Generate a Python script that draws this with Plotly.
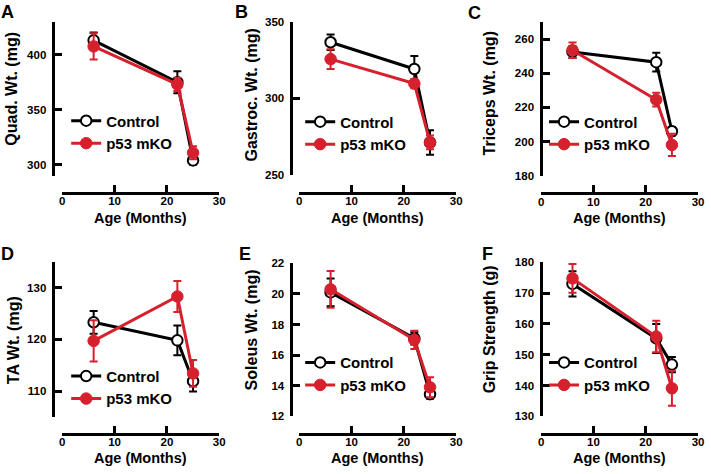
import plotly.graph_objects as go

W, H = 711, 474

# ---------------- data ----------------
ages = [6, 22, 25]
x_ticks = [0, 10, 20, 30]
series_names = ["Control", "p53 mKO"]

quad_ctrl = [413, 375, 304]
quad_ctrl_err = [7, 10, 4]
quad_ko = [407.5, 373, 311]
quad_ko_err = [12, 6, 6]

gastroc_ctrl = [336.5, 319, 271]
gastroc_ctrl_err = [5, 8.5, 8]
gastroc_ko = [325.5, 309.5, 271]
gastroc_ko_err = [6.5, 3, 4.5]

triceps_ctrl = [252.5, 246.5, 206]
triceps_ctrl_err = [3.5, 5.5, 2.5]
triceps_ko = [253.5, 224.5, 198]
triceps_ko_err = [4.5, 4, 6.5]

ta_ctrl = [123.3, 119.8, 111.9]
ta_ctrl_err = [2.2, 2.9, 2.0]
ta_ko = [119.7, 128.3, 113.4]
ta_ko_err = [4.0, 3.0, 2.6]

soleus_ctrl = [20.1, 17.1, 13.45]
soleus_ctrl_err = [0.9, 0.4, 0.3]
soleus_ko = [20.3, 17.0, 13.9]
soleus_ko_err = [1.2, 0.6, 0.65]

grip_ctrl = [173.0, 155.3, 146.8]
grip_ctrl_err = [4.1, 4.7, 2.5]
grip_ko = [174.8, 155.9, 139.1]
grip_ko_err = [4.7, 5.1, 5.7]

letters = ["A", "B", "C", "D", "E", "F"]
y_titles = ["Quad. Wt. (mg)", "Gastroc. Wt. (mg)", "Triceps Wt. (mg)",
            "TA Wt. (mg)", "Soleus Wt. (mg)", "Grip Strength (g)"]
x_title = "Age (Months)"
y_ranges = [[290, 430], [250, 350], [180, 270], [105, 135], [12, 22], [130, 180]]
y_tickvals = [[300, 350, 400], [250, 300, 350], [180, 200, 220, 240, 260],
              [110, 120, 130], [12, 14, 16, 18, 20, 22], [130, 140, 150, 160, 170, 180]]

ctrl_sets = [(quad_ctrl, quad_ctrl_err), (gastroc_ctrl, gastroc_ctrl_err),
             (triceps_ctrl, triceps_ctrl_err), (ta_ctrl, ta_ctrl_err),
             (soleus_ctrl, soleus_ctrl_err), (grip_ctrl, grip_ctrl_err)]
ko_sets = [(quad_ko, quad_ko_err), (gastroc_ko, gastroc_ko_err),
           (triceps_ko, triceps_ko_err), (ta_ko, ta_ko_err),
           (soleus_ko, soleus_ko_err), (grip_ko, grip_ko_err)]

# ---------------- layout geometry (pixels) ----------------
geo = [
    dict(x0=60, x1=219, xline=191.5, yt=16, yb=174.3, yline=51,
         ytc=(9, 85), letter=(5, 6), leg=(102, 122)),
    dict(x0=300, x1=459, xline=191.5, yt=16, yb=173, yline=292,
         ytc=(252, 91), letter=(242, 6), leg=(339, 123)),
    dict(x0=545, x1=704, xline=192, yt=16.5, yb=174, yline=545,
         ytc=(493, 90), letter=(478, 7), leg=(586, 123)),
    dict(x0=60, x1=219, xline=439, yt=262.5, yb=421.5, yline=51,
         ytc=(10, 343), letter=(5, 254), leg=(102, 384)),
    dict(x0=300, x1=459, xline=439, yt=264, yb=421, yline=292,
         ytc=(252, 332), letter=(245, 254), leg=(339, 370)),
    dict(x0=545, x1=704, xline=439, yt=263, yb=421, yline=545,
         ytc=(493, 332), letter=(491, 254), leg=(586, 370)),
]
x_title_y = [217, 217, 217, 464, 464, 464]


def fx(px):
    return px / W


def fy(py):
    return 1 - py / H


RED = "rgb(215,32,45)"
BLACK = "black"
FONT = "Liberation Sans, Arial, sans-serif"

fig = go.Figure()
layout = dict(
    width=W, height=H, margin=dict(l=0, r=0, t=0, b=0),
    paper_bgcolor="white", plot_bgcolor="rgba(0,0,0,0)",
    font=dict(family=FONT, color="black"),
    annotations=[], showlegend=True,
)

for i in range(6):
    g = geo[i]
    n = "" if i == 0 else str(i + 1)
    xa, ya = "x" + n, "y" + n
    leg = "legend" + n
    cy, cye = ctrl_sets[i]
    ky, kye = ko_sets[i]

    fig.add_trace(go.Scatter(
        x=ages, y=cy, xaxis=xa, yaxis=ya, name=series_names[0], legend=leg,
        mode="lines+markers",
        line=dict(color=BLACK, width=3),
        marker=dict(symbol="circle", size=10.5, color="white",
                    line=dict(color=BLACK, width=2)),
        error_y=dict(type="data", array=cye, color=BLACK, thickness=2, width=4),
        cliponaxis=False,
    ))
    fig.add_trace(go.Scatter(
        x=ages, y=ky, xaxis=xa, yaxis=ya, name=series_names[1], legend=leg,
        mode="lines+markers",
        line=dict(color=RED, width=3),
        marker=dict(symbol="circle", size=11.5, color=RED,
                    line=dict(color=RED, width=1)),
        error_y=dict(type="data", array=kye, color=RED, thickness=2, width=4),
        cliponaxis=False,
    ))

    layout["xaxis" + n] = dict(
        domain=[fx(g["x0"]), fx(g["x1"])], anchor="free", position=fy(g["xline"]),
        range=[0, 30], tickvals=x_ticks, ticks="inside", ticklen=7, tickwidth=2.5,
        tickcolor=BLACK, showline=True, linewidth=2.5, linecolor=BLACK,
        showgrid=False, zeroline=False, fixedrange=True, ticklabelstandoff=-3,
        tickfont=dict(family=FONT, size=11.5, color=BLACK, weight="bold"),
    )
    layout["yaxis" + n] = dict(
        domain=[fy(g["yb"]), fy(g["yt"])], anchor="free", position=fx(g["yline"]),
        range=y_ranges[i], tickvals=y_tickvals[i], ticks="inside", ticklen=7,
        tickwidth=2.5, tickcolor=BLACK, showline=True, linewidth=2.5,
        linecolor=BLACK, showgrid=False, zeroline=False, fixedrange=True,
        ticklabelstandoff=4,
        tickfont=dict(family=FONT, size=11.5, color=BLACK, weight="bold"),
    )
    layout[leg] = dict(
        x=fx(g["leg"][0] - 38), y=fy(g["leg"][1] - 21), xanchor="left", yanchor="top",
        bgcolor="rgba(0,0,0,0)", borderwidth=0, itemwidth=30,
        font=dict(family=FONT, size=15, color=BLACK, weight="bold"),
        tracegroupgap=0,
    )
    layout["annotations"].append(dict(
        text=letters[i], x=fx(g["letter"][0]), y=fy(g["letter"][1]),
        xref="paper", yref="paper", showarrow=False, xanchor="center", yanchor="middle",
        font=dict(family=FONT, size=18, color=BLACK, weight="bold"),
    ))
    layout["annotations"].append(dict(
        text=y_titles[i], x=fx(g["ytc"][0]), y=fy(g["ytc"][1]), textangle=-90,
        xref="paper", yref="paper", showarrow=False, xanchor="center", yanchor="middle",
        font=dict(family=FONT, size=16, color=BLACK, weight="bold"),
    ))
    layout["annotations"].append(dict(
        text=x_title, x=fx((g["x0"] + g["x1"]) / 2), y=fy(x_title_y[i]),
        xref="paper", yref="paper", showarrow=False, xanchor="center", yanchor="middle",
        font=dict(family=FONT, size=14.5, color=BLACK, weight="bold"),
    ))

fig.update_layout(**layout)
fig.write_html(
    "out.html",
    config={"displayModeBar": False},
    post_script="document.body.style.margin='0px';document.body.style.padding='0px';",
)
